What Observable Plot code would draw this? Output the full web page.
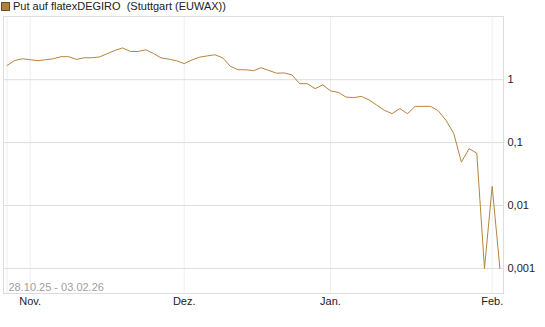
<!DOCTYPE html>
<html><head><meta charset="utf-8">
<script src="https://cdn.jsdelivr.net/npm/d3@7"></script>
<script src="https://cdn.jsdelivr.net/npm/@observablehq/plot@0.6"></script>
<style>
body{margin:0;background:#fff;font-family:"Liberation Sans",Arial,sans-serif;}
#wrap{position:relative;width:545px;height:327px;overflow:hidden;}
#legend{position:absolute;left:1px;top:1px;font-size:11px;line-height:11px;color:#222;white-space:pre;display:flex;align-items:center;z-index:2;}
#legend .sw{display:inline-block;width:7px;height:7px;background:#b08040;border:1px solid #6e5028;margin-right:3px;}
</style></head><body>
<div id="wrap"><div id="legend"><span class="sw"></span><span id="lgtext"></span></div></div>
<script>
const seriesName = "Put auf flatexDEGIRO  (Stuttgart (EUWAX))";
const caption = "28.10.25 - 03.02.26";
const dates = [
"2025-10-29","2025-10-30","2025-10-31",
"2025-11-03","2025-11-04","2025-11-05","2025-11-06","2025-11-07",
"2025-11-10","2025-11-11","2025-11-12","2025-11-13","2025-11-14",
"2025-11-17","2025-11-18","2025-11-19","2025-11-20","2025-11-21",
"2025-11-24","2025-11-25","2025-11-26","2025-11-27","2025-11-28",
"2025-12-01","2025-12-02","2025-12-03","2025-12-04","2025-12-05",
"2025-12-08","2025-12-09","2025-12-10","2025-12-11","2025-12-12",
"2025-12-15","2025-12-16","2025-12-17","2025-12-18","2025-12-19",
"2025-12-22","2025-12-23","2025-12-29","2025-12-30",
"2026-01-02","2026-01-05","2026-01-06","2026-01-07","2026-01-08","2026-01-09",
"2026-01-12","2026-01-13","2026-01-14","2026-01-15","2026-01-16",
"2026-01-19","2026-01-20","2026-01-21","2026-01-22","2026-01-23",
"2026-01-26","2026-01-27","2026-01-28","2026-01-29","2026-01-30",
"2026-02-02","2026-02-03"
];
const values = [
1.69,2.02,2.15,
2.08,2.00,2.08,2.15,2.32,
2.32,2.10,2.23,2.23,2.30,
2.59,2.92,3.20,2.81,2.81,
2.99,2.61,2.22,2.12,2.00,
1.80,2.06,2.28,2.39,2.49,
2.22,1.63,1.44,1.44,1.39,
1.55,1.40,1.27,1.28,1.19,
0.864,0.864,0.72,0.827,
0.664,0.629,0.53,0.518,0.543,0.478,
0.395,0.326,0.289,0.347,0.289,
0.377,0.377,0.377,0.32,0.226,
0.141,0.049,0.08,0.068,0.001,
0.0202,0.001
];
const gridDates = ["2025-10-29","2025-11-03","2025-12-01","2026-01-02","2026-02-02"];
const tickDates = ["2025-11-03","2025-12-01","2026-01-02","2026-02-02"];
const tickLabels = ["Nov.","Dez.","Jan.","Feb."];
const yTicks = [1,0.1,0.01,0.001];

document.getElementById("lgtext").textContent = seriesName;
const data = dates.map((d,i)=>({i, date:d, value:values[i]}));
const gridIdx = gridDates.map(d => dates.indexOf(d));
const tickIdx = tickDates.map(d => dates.indexOf(d));

const chart = Plot.plot({
  width:545, height:327, marginTop:16, marginBottom:34, marginLeft:3, marginRight:42,
  style:{fontFamily:"'Liberation Sans', Arial, sans-serif", fontSize:"11px", color:"#222", background:"white"},
  x:{type:"linear", domain:[-0.47,64.47]},
  y:{type:"log", domain:[0.0004,10.1]},
  marks:[
    Plot.ruleX(gridIdx, {stroke:"#eeeeee"}),
    Plot.ruleY(yTicks, {stroke:"#dddddd"}),
    Plot.frame({stroke:"#dddddd"}),
    Plot.text([caption], {frameAnchor:"bottom-left", textAnchor:"start", dx:5, dy:-3, fill:"#a0a0a0", fontSize:11}),
    Plot.line(data, {x:"i", y:"value", stroke:"#b5843c", strokeWidth:1}),
    Plot.axisY(yTicks, {anchor:"right", tickSize:0, tickPadding:4, tickFormat:d=>String(d).replace(".",","), label:null, fill:"#222"}),
    Plot.axisX(tickIdx, {anchor:"bottom", tickSize:0, tickPadding:4, tickFormat:d=>tickLabels[tickIdx.indexOf(d)], label:null, fill:"#222"})
  ]
});
document.getElementById("wrap").appendChild(chart);
</script>
</body></html>
